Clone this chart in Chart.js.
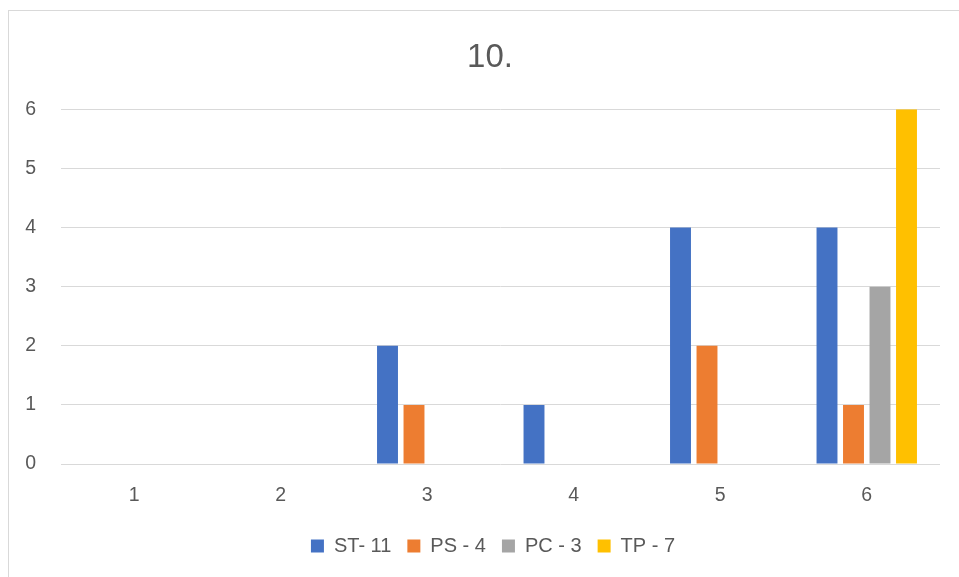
<!DOCTYPE html>
<html>
<head>
<meta charset="utf-8">
<script src="https://cdn.jsdelivr.net/npm/chart.js@4/dist/chart.umd.min.js"></script>
<style>
  html, body { margin: 0; padding: 0; background: #fff; }
  #wrap { position: relative; width: 959px; height: 577px; overflow: hidden; }
  #frame { position: absolute; left: 8px; top: 10px; right: -2px; bottom: -2px;
           border-left: 1px solid #d9d9d9; border-top: 1px solid #d9d9d9; pointer-events: none; }
  canvas { position: absolute; left: 0; top: 0; }
</style>
</head>
<body>
<div id="wrap">
  <canvas id="chart" width="959" height="577"></canvas>
  <div id="frame"></div>
</div>
<script>
// Categories along the x axis
const categories = ['1', '2', '3', '4', '5', '6'];

// Series values per category
const stValues = [0, 0, 2, 1, 4, 4];
const psValues = [0, 0, 1, 0, 2, 1];
const pcValues = [0, 0, 0, 0, 0, 3];
const tpValues = [0, 0, 0, 0, 0, 6];

// Series names shown in the legend
const seriesNames = ['ST- 11', 'PS - 4', 'PC - 3', 'TP - 7'];
const seriesColors = ['#4472C4', '#ED7D31', '#A5A5A5', '#FFC000'];

// Y axis ticks
const yTicks = [0, 1, 2, 3, 4, 5, 6];

const textColor = '#595959';
const fontFamily = '"Liberation Sans", Arial, sans-serif';

const seriesValues = [stValues, psValues, pcValues, tpValues];

// The chart frame runs past the right edge of the page, so the title and
// legend sit centred on that wider frame rather than on the canvas.
const shiftHeaderBlocks = {
  id: 'shiftHeaderBlocks',
  afterLayout(chart) {
    const t = chart.titleBlock;
    if (t) { t.left += 20; t.right += 20; }
    const l = chart.legend;
    if (l) { l.left += 23; l.right += 23; }
  }
};

new Chart(document.getElementById('chart'), {
  type: 'bar',
  data: {
    labels: categories,
    datasets: seriesNames.map((name, i) => ({
      label: name,
      data: seriesValues[i],
      backgroundColor: seriesColors[i],
      borderWidth: 0,
      categoryPercentage: 0.7235,
      barPercentage: 0.79
    }))
  },
  plugins: [shiftHeaderBlocks],
  options: {
    responsive: false,
    animation: false,
    events: [],
    layout: { padding: { left: 0, right: 19, top: 0, bottom: 11 } },
    plugins: {
      tooltip: { enabled: false },
      title: {
        display: true,
        text: '10.',
        color: textColor,
        font: { family: fontFamily, size: 33, weight: 'normal' },
        padding: { top: 38, bottom: 31.7 }
      },
      legend: {
        position: 'bottom',
        labels: {
          color: textColor,
          font: { family: fontFamily, size: 20 },
          boxWidth: 13,
          boxHeight: 13,
          padding: 16
        }
      }
    },
    scales: {
      x: {
        grid: { display: false, drawTicks: false },
        border: { display: false },
        ticks: { color: textColor, font: { family: fontFamily, size: 19.5 }, padding: 20 },
        afterFit: (s) => { s.height = 56; }
      },
      y: {
        min: 0,
        max: 6,
        afterBuildTicks: (s) => { s.ticks = yTicks.map(v => ({ value: v })); },
        grid: { color: '#d9d9d9', lineWidth: 1, drawTicks: false },
        border: { display: false },
        ticks: { color: textColor, font: { family: fontFamily, size: 19.5 }, padding: 25 },
        afterFit: (s) => { s.width = 61; }
      }
    }
  }
});
</script>
</body>
</html>
